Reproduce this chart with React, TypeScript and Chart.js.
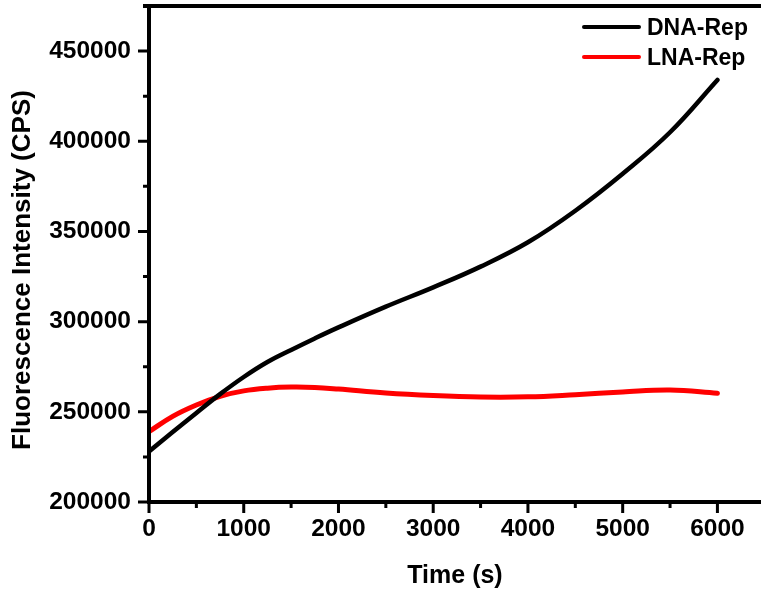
import React, { useEffect, useRef } from "react";
import { Chart, registerables } from "chart.js";

Chart.register(...registerables);

// ---- data ----
const timeS = [0, 250, 500, 750, 1000, 1250, 1500, 1750, 2000, 2500, 3000, 3500, 4000, 4500, 5000, 5500, 6000];
const dnaRep = [228000, 238800, 249400, 259800, 269300, 277600, 284300, 290700, 296800, 308300, 319000, 330500, 344000, 361500, 382000, 405000, 434000];
const lnaRep = [239000, 247500, 253800, 258600, 261600, 263100, 263700, 263500, 262600, 260400, 259000, 258200, 258300, 259500, 261000, 262100, 260300];

const seriesNames = ["DNA-Rep", "LNA-Rep"];
const seriesColors = ["#000000", "#ff0000"];

const xTickValues = [0, 1000, 2000, 3000, 4000, 5000, 6000];
const xMinorTicks = [500, 1500, 2500, 3500, 4500, 5500];
const yTickValues = [200000, 250000, 300000, 350000, 400000, 450000];
const yMinorTicks = [225000, 275000, 325000, 375000, 425000];

const xTitle = "Time (s)";
const yTitle = "Fluorescence Intensity (CPS)";

const FONT = "'Liberation Sans', Arial, sans-serif";

const framePlugin = {
  id: "frame",
  afterDraw(chart: any) {
    const { ctx, chartArea } = chart;
    const xs = chart.scales.x;
    const ys = chart.scales.y;
    const { left, right, top, bottom } = chartArea;
    ctx.save();
    ctx.strokeStyle = "#000";
    ctx.lineCap = "butt";
    // axis frame
    ctx.lineWidth = 4;
    ctx.beginPath();
    ctx.moveTo(left - 6, top);
    ctx.lineTo(right, top);
    ctx.moveTo(left, top - 2);
    ctx.lineTo(left, bottom + 2);
    ctx.moveTo(left - 2, bottom);
    ctx.lineTo(right, bottom);
    ctx.stroke();
    // ticks
    ctx.lineWidth = 3;
    ctx.beginPath();
    xTickValues.forEach((v) => {
      const px = xs.getPixelForValue(v);
      ctx.moveTo(px, bottom);
      ctx.lineTo(px, bottom + 11);
    });
    xMinorTicks.forEach((v) => {
      const px = xs.getPixelForValue(v);
      ctx.moveTo(px, bottom);
      ctx.lineTo(px, bottom + 6);
    });
    yTickValues.forEach((v) => {
      const py = ys.getPixelForValue(v);
      ctx.moveTo(left, py);
      ctx.lineTo(left - 11, py);
    });
    yMinorTicks.forEach((v) => {
      const py = ys.getPixelForValue(v);
      ctx.moveTo(left, py);
      ctx.lineTo(left - 6, py);
    });
    ctx.stroke();

    // y title
    ctx.fillStyle = "#000";
    ctx.font = `bold 26px ${FONT}`;
    ctx.textAlign = "center";
    ctx.textBaseline = "middle";
    ctx.translate(23, 270);
    ctx.rotate(-Math.PI / 2);
    ctx.fillText(yTitle, 0, 0);
    ctx.setTransform(1, 0, 0, 1, 0, 0);
    ctx.restore();

    // legend
    ctx.save();
    const rows = [27, 57];
    seriesNames.forEach((name, i) => {
      const y = rows[i];
      ctx.strokeStyle = seriesColors[i];
      ctx.lineWidth = 4;
      ctx.lineCap = "round";
      ctx.beginPath();
      ctx.moveTo(584, y);
      ctx.lineTo(639, y);
      ctx.stroke();
      ctx.fillStyle = "#000";
      ctx.font = `bold 23px ${FONT}`;
      ctx.textAlign = "left";
      ctx.textBaseline = "alphabetic";
      ctx.fillText(name, 647, y + 8);
    });
    ctx.restore();
  },
};

export default function App() {
  const canvasRef = useRef<HTMLCanvasElement | null>(null);

  useEffect(() => {
    const canvas = canvasRef.current;
    if (!canvas) return;
    const chart = new Chart(canvas, {
      type: "line",
      data: {
        datasets: [
          {
            label: seriesNames[0],
            data: timeS.map((t, i) => ({ x: t, y: dnaRep[i] })),
            borderColor: seriesColors[0],
            borderWidth: 4.5,
            borderCapStyle: "round",
            pointRadius: 0,
            tension: 0.4,
            fill: false,
          },
          {
            label: seriesNames[1],
            data: timeS.map((t, i) => ({ x: t, y: lnaRep[i] })),
            borderColor: seriesColors[1],
            borderWidth: 5,
            borderCapStyle: "round",
            pointRadius: 0,
            tension: 0.4,
            fill: false,
          },
        ],
      },
      options: {
        animation: false,
        responsive: true,
        maintainAspectRatio: false,
        layout: { padding: { top: 6, right: 0, left: 0, bottom: 0 } },
        plugins: {
          legend: { display: false },
          tooltip: { enabled: false },
        },
        scales: {
          x: {
            type: "linear",
            min: 0,
            max: 6460,
            afterBuildTicks: (scale: any) => {
              scale.ticks = xTickValues.map((v) => ({ value: v }));
            },
            afterFit: (scale: any) => {
              scale.height = 96;
              scale.paddingLeft = 0;
              scale.paddingRight = 0;
            },
            ticks: {
              color: "#000",
              font: { family: FONT, size: 24.5, weight: "bold" },
              padding: 13,
              maxRotation: 0,
              autoSkip: false,
              callback: (v: any) => String(v),
            },
            grid: { display: false, drawTicks: false },
            border: { display: false },
            title: {
              display: true,
              text: xTitle,
              color: "#000",
              font: { family: FONT, size: 25, weight: "bold" },
              padding: { top: 4, bottom: 7 },
            },
          },
          y: {
            type: "linear",
            min: 200000,
            max: 475000,
            afterBuildTicks: (scale: any) => {
              scale.ticks = yTickValues.map((v) => ({ value: v }));
            },
            afterFit: (scale: any) => {
              scale.width = 149;
              scale.paddingTop = 0;
              scale.paddingBottom = 0;
            },
            ticks: {
              color: "#000",
              font: { family: FONT, size: 24.5, weight: "bold" },
              padding: 18,
              autoSkip: false,
              callback: (v: any) => String(v),
            },
            grid: { display: false, drawTicks: false },
            border: { display: false },
          },
        },
      },
      plugins: [framePlugin],
    });
    return () => chart.destroy();
  }, []);

  return (
    <div style={{ position: "absolute", left: 0, top: 0, width: 761, height: 598, background: "#fff" }}>
      <canvas ref={canvasRef} />
    </div>
  );
}
